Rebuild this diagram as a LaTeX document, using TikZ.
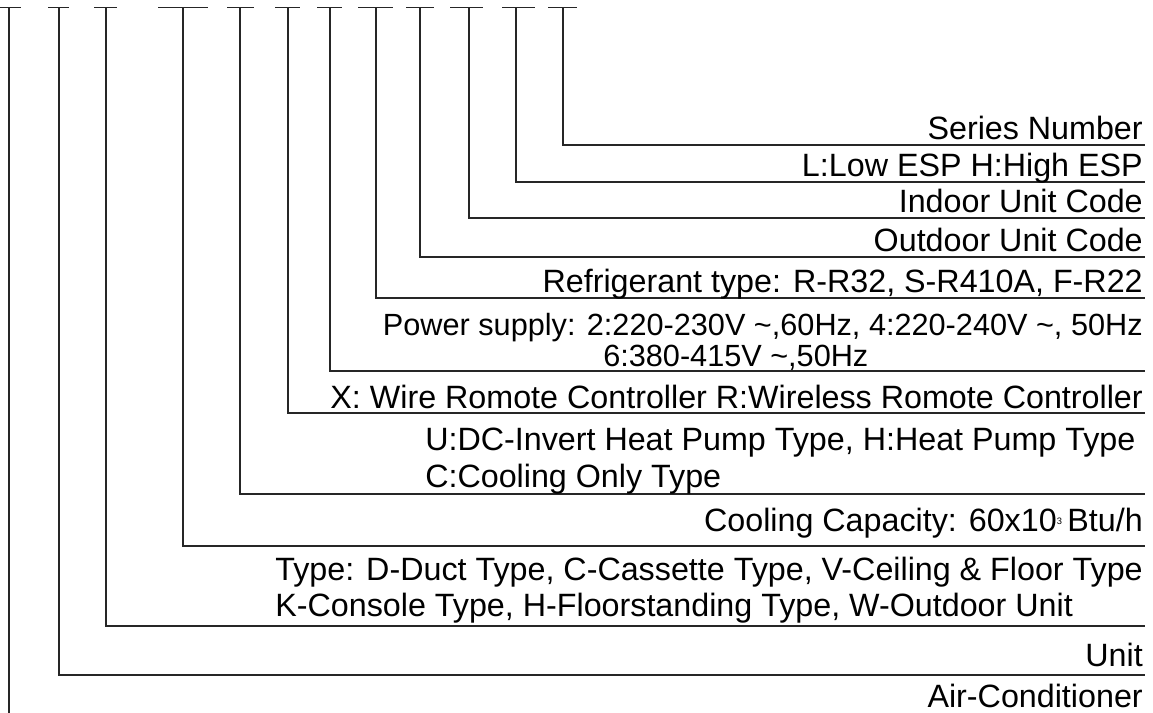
\documentclass[tikz,border=0pt]{standalone}
\usepackage{fontspec}
\setmainfont{Liberation Sans}
\begin{document}
\begin{tikzpicture}[x=0.75pt,y=-0.75pt,
  lbl/.style={inner sep=0pt,font=\fontsize{24.2}{28}\selectfont},
  slbl/.style={inner sep=0pt,font=\fontsize{23}{26}\selectfont},
  rlbl/.style={lbl,anchor=base east},
  llbl/.style={lbl,anchor=base west},
  ln/.style={line width=0.9pt,black!85}]
\useasboundingbox (0,0) rectangle (1153,713);
% T bars at the top: left, right, stem x, line y, name
\foreach \l/\r/\s/\y/\n in {0/21/9/713/1, 48/69/59/675/2, 94/117/106/626/3,
  158/208/183/546/4, 227/254/240/494/5, 275/300/288/413/6, 317/342/330/371/7,
  358/393/376/298/8, 406/434/420/257/9, 450/483/469/218/10, 502/535/516/182/11,
  548/577/563/145/12}{
  \coordinate (bl\n) at (\l,7.7);
  \coordinate (br\n) at (\r,7.7);
  \coordinate (t\n) at (\s,7.7);
  \coordinate (e\n) at (1145,\y);
  \draw[ln] (bl\n) -- (br\n);
}
\draw[ln] (t1) -- (t1 |- e1);
\foreach \n in {2,...,12}{\draw[ln] (t\n) |- (e\n);}
% labels
\node[rlbl] (n12) at (1143,140) {Series Number};
\node[rlbl] (n11) at (1143,177) {L:Low ESP H:High ESP};
\node[rlbl] (n10) at (1143,213) {Indoor Unit Code};
\node[rlbl] (n9) at (1143,252) {Outdoor Unit Code};
\node[rlbl] (n8) at (1143,292) {Refrigerant type: R-R32, S-R410A, F-R22};
\node[slbl,anchor=base east] (n7a) at (1143,335) {Power supply: 2:220-230V \textasciitilde,60Hz, 4:220-240V \textasciitilde, 50Hz};
\node[slbl,anchor=base west] (n7b) at (603,366) {6:380-415V \textasciitilde,50Hz};
\node[rlbl] (n6) at (1143,408) {X: Wire Romote Controller R:Wireless Romote Controller};
\node[llbl] (n5a) at (425,450) {U:DC-Invert Heat Pump Type, H:Heat Pump Type};
\node[llbl] (n5b) at (425,487) {C:Cooling Only Type};
\node[rlbl] (n4) at (1143,531) {Cooling Capacity: 60x10{\fontsize{7}{7}\selectfont\raisebox{1.4ex}{3}}\,Btu/h};
\node[rlbl] (n3a) at (1143,580) {Type: D-Duct Type, C-Cassette Type, V-Ceiling \& Floor Type};
\node[llbl] (n3b) at ([yshift=-36*0.75pt]n3a.base west) {K-Console Type, H-Floorstanding Type, W-Outdoor Unit};
\node[rlbl] (n2) at (1143,666) {Unit};
\node[rlbl] (n1) at (1143,707) {Air-Conditioner};
\end{tikzpicture}
\end{document}
